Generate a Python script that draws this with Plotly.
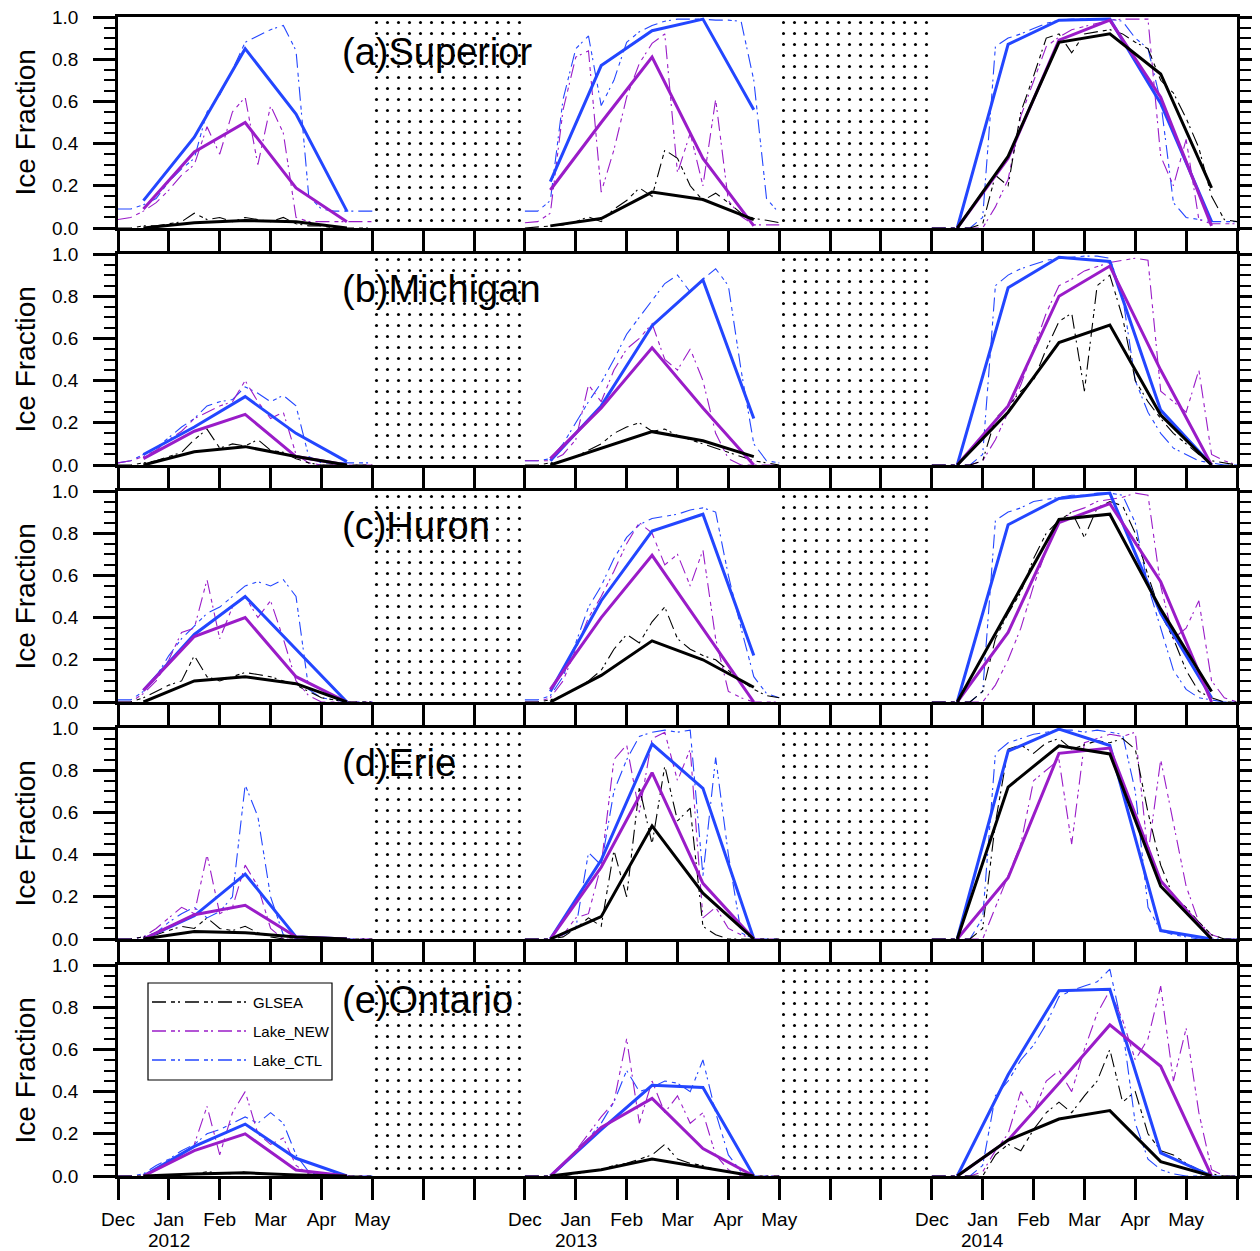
import plotly.graph_objects as go
from plotly.subplots import make_subplots

FONT = "Liberation Sans, Arial, Helvetica, sans-serif"

# ---------------- axis / categories ----------------
PANEL_TITLES = ["(a)Superior", "(b)Michigan", "(c)Huron", "(d)Erie", "(e)Ontario"]
TICK_POS = list(range(23))  # month index: Dec 2011 = 0 ... (summer compressed)
TICK_TEXT = ["Dec", "Jan", "Feb", "Mar", "Apr", "May", "", "",
             "Dec", "Jan", "Feb", "Mar", "Apr", "May", "", "",
             "Dec", "Jan", "Feb", "Mar", "Apr", "May", ""]
YEAR_TEXT = ["2012", "2013", "2014"]
YEAR_POS = [1, 9, 17]
GAP_CENTER = [6.5, 14.5]      # no-ice (summer) periods, stippled
GAP_WIDTH = [2.95, 2.9]
GAP_TOP = [1.0, 1.0]

# x positions (month index) of the daily (sub-sampled) series, per winter
DAY_X_12 = [0, 0.25, 0.5, 0.75, 1, 1.25, 1.5, 1.75, 2, 2.25, 2.5, 2.75, 3, 3.25, 3.5, 3.75, 4, 4.25, 4.5, 4.75, 5]
DAY_X_13 = [8, 8.25, 8.5, 8.75, 9, 9.25, 9.5, 9.75, 10, 10.25, 10.5, 10.75, 11, 11.25, 11.5, 11.75, 12, 12.25, 12.5, 12.75, 13]
DAY_X_14 = [16, 16.25, 16.5, 16.75, 17, 17.25, 17.5, 17.75, 18, 18.25, 18.5, 18.75, 19, 19.25, 19.5, 19.75, 20, 20.25, 20.5, 20.75, 21, 21.25, 21.5, 21.75, 22]
DAY_X = DAY_X_12 + [None] + DAY_X_13 + [None] + DAY_X_14

# x positions of monthly means (mid-month)
MON_X = [0.5, 1.5, 2.5, 3.5, 4.5, None, 8.5, 9.5, 10.5, 11.5, 12.5, None, 16.5, 17.5, 18.5, 19.5, 20.5, 21.5]

# ---------------- monthly means ----------------
SUP_GLSEA_M = [0.0, 0.025, 0.035, 0.03, 0.0, None, 0.01, 0.045, 0.17, 0.135, 0.04, None, 0.0, 0.34, 0.88, 0.92, 0.73, 0.19]
SUP_NEW_M = [0.09, 0.36, 0.50, 0.19, 0.03, None, 0.18, 0.50, 0.81, 0.33, 0.01, None, 0.0, 0.33, 0.89, 0.985, 0.62, 0.01]
SUP_CTL_M = [0.13, 0.43, 0.85, 0.54, 0.08, None, 0.22, 0.77, 0.935, 0.99, 0.56, None, 0.0, 0.87, 0.985, 0.99, 0.59, 0.03]

MIC_GLSEA_M = [0.0, 0.063, 0.087, 0.04, 0.0, None, 0.0, 0.08, 0.158, 0.115, 0.04, None, 0.0, 0.25, 0.58, 0.663, 0.237, 0.0]
MIC_NEW_M = [0.03, 0.16, 0.24, 0.04, 0.0, None, 0.03, 0.27, 0.555, 0.27, 0.0, None, 0.0, 0.28, 0.80, 0.943, 0.45, 0.0]
MIC_CTL_M = [0.05, 0.18, 0.324, 0.15, 0.016, None, 0.02, 0.28, 0.66, 0.877, 0.22, None, 0.0, 0.84, 0.985, 0.965, 0.26, 0.0]

HUR_GLSEA_M = [0.0, 0.10, 0.12, 0.087, 0.0, None, 0.0, 0.126, 0.29, 0.20, 0.07, None, 0.0, 0.43, 0.865, 0.89, 0.44, 0.05]
HUR_NEW_M = [0.055, 0.31, 0.40, 0.12, 0.0, None, 0.06, 0.40, 0.695, 0.35, 0.0, None, 0.0, 0.33, 0.85, 0.94, 0.57, 0.0]
HUR_CTL_M = [0.055, 0.32, 0.50, 0.25, 0.0, None, 0.05, 0.48, 0.81, 0.89, 0.22, None, 0.0, 0.84, 0.965, 0.99, 0.42, 0.02]

ERI_GLSEA_M = [0.0, 0.036, 0.03, 0.01, 0.0, None, 0.0, 0.106, 0.536, 0.217, 0.0, None, 0.0, 0.72, 0.916, 0.877, 0.25, 0.0]
ERI_NEW_M = [0.0, 0.115, 0.16, 0.01, 0.0, None, 0.0, 0.34, 0.788, 0.264, 0.0, None, 0.0, 0.29, 0.88, 0.905, 0.276, 0.0]
ERI_CTL_M = [0.0, 0.11, 0.308, 0.01, 0.0, None, 0.0, 0.374, 0.924, 0.714, 0.0, None, 0.0, 0.89, 0.995, 0.917, 0.04, 0.0]

ONT_GLSEA_M = [0.0, 0.01, 0.015, 0.005, 0.0, None, 0.0, 0.03, 0.08, 0.04, 0.0, None, 0.0, 0.17, 0.27, 0.31, 0.068, 0.0]
ONT_NEW_M = [0.0, 0.12, 0.20, 0.028, 0.0, None, 0.0, 0.23, 0.368, 0.13, 0.0, None, 0.0, 0.17, 0.44, 0.716, 0.52, 0.0]
ONT_CTL_M = [0.0, 0.14, 0.246, 0.084, 0.0, None, 0.0, 0.22, 0.43, 0.42, 0.0, None, 0.0, 0.48, 0.878, 0.885, 0.11, 0.0]

# ---------------- daily series ----------------
SUP_CTL_D = ([0.09, 0.09, 0.11, 0.14, 0.22, 0.28, 0.33, 0.55, 0.63, 0.75, 0.88, 0.91, 0.94, 0.96, 0.84, 0.15, 0.09, 0.08, 0.08, 0.08, 0.08]
             + [None] + [0.08, 0.08, 0.13, 0.61, 0.85, 0.91, 0.58, 0.70, 0.88, 0.93, 0.96, 0.98, 0.99, 0.99, 0.99, 0.985, 0.985, 0.98, 0.70, 0.14, 0.07]
             + [None] + [0, 0, 0, 0, 0.05, 0.86, 0.90, 0.92, 0.945, 0.97, 0.985, 0.99, 0.99, 0.99, 0.99, 0.98, 0.90, 0.85, 0.60, 0.12, 0.05, 0.04, 0.03, 0.03, 0.03])
SUP_NEW_D = ([0.04, 0.05, 0.08, 0.12, 0.18, 0.25, 0.30, 0.48, 0.35, 0.55, 0.62, 0.30, 0.58, 0.45, 0.05, 0.03, 0.03, 0.03, 0.03, 0.03, 0.03]
             + [None] + [0.025, 0.03, 0.07, 0.56, 0.81, 0.84, 0.17, 0.37, 0.62, 0.78, 0.875, 0.92, 0.26, 0.45, 0.20, 0.61, 0.13, 0.055, 0.015, 0.015, 0.015]
             + [None] + [0, 0, 0, 0, 0.0, 0.10, 0.23, 0.53, 0.70, 0.86, 0.905, 0.94, 0.955, 0.97, 0.985, 0.99, 0.99, 0.99, 0.34, 0.20, 0.42, 0.04, 0.02, 0.02, 0.02])
SUP_GLSEA_D = ([0, 0, 0.01, 0.01, 0.02, 0.03, 0.07, 0.04, 0.05, 0.03, 0.05, 0.04, 0.03, 0.05, 0.02, 0.01, 0.01, 0, 0, 0, 0]
               + [None] + [0, 0.005, 0.01, 0.014, 0.03, 0.053, 0.03, 0.09, 0.13, 0.19, 0.15, 0.37, 0.33, 0.20, 0.13, 0.165, 0.12, 0.07, 0.045, 0.037, 0.025]
               + [None] + [0, 0, 0, 0, 0.02, 0.25, 0.20, 0.55, 0.72, 0.90, 0.92, 0.83, 0.92, 0.93, 0.94, 0.92, 0.88, 0.85, 0.70, 0.64, 0.52, 0.38, 0.15, 0.04, 0.03])

MIC_CTL_D = ([0.01, 0.02, 0.05, 0.08, 0.13, 0.18, 0.22, 0.28, 0.30, 0.31, 0.37, 0.34, 0.30, 0.33, 0.28, 0.04, 0.01, 0.01, 0.01, 0.01, 0.01]
             + [None] + [0.02, 0.02, 0.03, 0.10, 0.20, 0.30, 0.39, 0.50, 0.62, 0.70, 0.78, 0.86, 0.90, 0.82, 0.88, 0.93, 0.85, 0.45, 0.10, 0.02, 0.01]
             + [None] + [0, 0, 0, 0, 0.05, 0.85, 0.90, 0.93, 0.95, 0.97, 0.98, 0.985, 0.99, 0.99, 0.98, 0.80, 0.40, 0.25, 0.15, 0.08, 0.05, 0.02, 0.01, 0, 0])
MIC_NEW_D = ([0.01, 0.02, 0.04, 0.07, 0.12, 0.16, 0.22, 0.25, 0.28, 0.30, 0.40, 0.30, 0.22, 0.25, 0.05, 0.01, 0, 0, 0, 0, 0]
             + [None] + [0.02, 0.02, 0.02, 0.05, 0.12, 0.38, 0.30, 0.45, 0.55, 0.60, 0.67, 0.50, 0.45, 0.55, 0.40, 0.15, 0.03, 0, 0, 0, 0]
             + [None] + [0, 0, 0, 0, 0.02, 0.12, 0.25, 0.38, 0.55, 0.72, 0.85, 0.88, 0.92, 0.94, 0.96, 0.97, 0.98, 0.97, 0.35, 0.30, 0.25, 0.45, 0.05, 0.02, 0])
MIC_GLSEA_D = ([0, 0, 0.01, 0.02, 0.04, 0.06, 0.12, 0.17, 0.08, 0.10, 0.09, 0.12, 0.07, 0.06, 0.03, 0.01, 0, 0, 0, 0, 0]
               + [None] + [0, 0, 0.01, 0.02, 0.04, 0.07, 0.10, 0.15, 0.18, 0.20, 0.16, 0.17, 0.14, 0.12, 0.10, 0.08, 0.06, 0.04, 0.02, 0.01, 0]
               + [None] + [0, 0, 0, 0, 0.02, 0.22, 0.28, 0.35, 0.40, 0.55, 0.68, 0.72, 0.35, 0.85, 0.90, 0.70, 0.40, 0.30, 0.22, 0.15, 0.10, 0.05, 0.02, 0.01, 0])

HUR_CTL_D = ([0.01, 0.01, 0.05, 0.12, 0.22, 0.30, 0.36, 0.42, 0.45, 0.50, 0.55, 0.57, 0.55, 0.58, 0.50, 0.06, 0.02, 0.01, 0, 0, 0]
             + [None] + [0.01, 0.01, 0.03, 0.12, 0.28, 0.45, 0.55, 0.68, 0.78, 0.84, 0.87, 0.88, 0.89, 0.91, 0.92, 0.90, 0.60, 0.35, 0.12, 0.04, 0.02]
             + [None] + [0, 0, 0, 0, 0.05, 0.86, 0.90, 0.92, 0.95, 0.96, 0.97, 0.98, 0.98, 0.99, 0.99, 0.98, 0.85, 0.55, 0.35, 0.15, 0.06, 0.02, 0.01, 0, 0])
HUR_NEW_D = ([0, 0, 0.04, 0.10, 0.20, 0.33, 0.35, 0.58, 0.30, 0.45, 0.50, 0.40, 0.48, 0.30, 0.10, 0.03, 0, 0, 0, 0, 0]
             + [None] + [0, 0, 0.02, 0.10, 0.25, 0.40, 0.50, 0.62, 0.75, 0.85, 0.80, 0.65, 0.70, 0.55, 0.72, 0.30, 0.05, 0.02, 0, 0, 0]
             + [None] + [0, 0, 0, 0, 0, 0.08, 0.20, 0.35, 0.55, 0.72, 0.85, 0.90, 0.92, 0.95, 0.96, 0.97, 0.99, 0.98, 0.55, 0.30, 0.35, 0.48, 0.10, 0.02, 0])
HUR_GLSEA_D = ([0, 0, 0.02, 0.05, 0.08, 0.10, 0.22, 0.12, 0.10, 0.12, 0.14, 0.13, 0.12, 0.10, 0.08, 0.05, 0.02, 0.01, 0, 0, 0]
               + [None] + [0, 0, 0.01, 0.03, 0.06, 0.10, 0.15, 0.25, 0.32, 0.28, 0.38, 0.45, 0.30, 0.25, 0.22, 0.20, 0.15, 0.10, 0.06, 0.03, 0.02]
               + [None] + [0, 0, 0, 0, 0.05, 0.30, 0.42, 0.52, 0.68, 0.80, 0.86, 0.90, 0.78, 0.92, 0.95, 0.93, 0.80, 0.60, 0.42, 0.30, 0.15, 0.05, 0.02, 0, 0])

ERI_CTL_D = ([0, 0, 0.01, 0.03, 0.08, 0.12, 0.15, 0.10, 0.13, 0.20, 0.73, 0.58, 0.20, 0.02, 0, 0, 0, 0, 0, 0, 0]
             + [None] + [0, 0, 0, 0.02, 0.05, 0.41, 0.35, 0.70, 0.85, 0.96, 0.98, 0.99, 0.98, 0.99, 0.30, 0.86, 0.40, 0.03, 0, 0, 0]
             + [None] + [0, 0, 0, 0, 0.10, 0.88, 0.93, 0.95, 0.97, 0.98, 0.99, 0.99, 0.98, 0.99, 0.98, 0.97, 0.70, 0.15, 0.04, 0.02, 0.01, 0, 0, 0, 0])
ERI_NEW_D = ([0, 0, 0.01, 0.05, 0.10, 0.15, 0.12, 0.40, 0.12, 0.15, 0.35, 0.25, 0.05, 0, 0, 0, 0, 0, 0, 0, 0]
             + [None] + [0, 0, 0, 0.02, 0.10, 0.12, 0.35, 0.85, 0.92, 0.60, 0.95, 0.98, 0.75, 0.90, 0.10, 0.15, 0.05, 0.02, 0, 0, 0]
             + [None] + [0, 0, 0, 0, 0, 0.15, 0.30, 0.45, 0.75, 0.80, 0.85, 0.45, 0.93, 0.95, 0.97, 0.96, 0.98, 0.40, 0.85, 0.55, 0.25, 0.08, 0.02, 0, 0])
ERI_GLSEA_D = ([0, 0, 0.01, 0.02, 0.04, 0.06, 0.05, 0.10, 0.05, 0.04, 0.06, 0.03, 0.01, 0, 0, 0, 0, 0, 0, 0, 0]
               + [None] + [0, 0, 0, 0.01, 0.05, 0.10, 0.06, 0.42, 0.20, 0.72, 0.45, 0.82, 0.56, 0.62, 0.06, 0.02, 0, 0, 0, 0, 0]
               + [None] + [0, 0, 0, 0, 0.05, 0.55, 0.90, 0.92, 0.88, 0.93, 0.95, 0.90, 0.92, 0.94, 0.93, 0.95, 0.90, 0.60, 0.35, 0.20, 0.15, 0.08, 0.02, 0, 0])

ONT_CTL_D = ([0, 0, 0.01, 0.05, 0.08, 0.12, 0.15, 0.20, 0.22, 0.25, 0.28, 0.25, 0.30, 0.25, 0.10, 0.02, 0, 0, 0, 0, 0]
             + [None] + [0, 0, 0, 0.05, 0.12, 0.18, 0.25, 0.35, 0.50, 0.40, 0.42, 0.45, 0.44, 0.40, 0.55, 0.30, 0.10, 0.02, 0, 0, 0]
             + [None] + [0, 0, 0, 0, 0.05, 0.38, 0.45, 0.55, 0.62, 0.72, 0.85, 0.88, 0.90, 0.92, 0.98, 0.70, 0.25, 0.08, 0.03, 0.01, 0, 0, 0, 0, 0])
ONT_NEW_D = ([0, 0, 0, 0.03, 0.06, 0.10, 0.15, 0.33, 0.10, 0.30, 0.40, 0.20, 0.15, 0.18, 0.05, 0.01, 0, 0, 0, 0, 0]
             + [None] + [0, 0, 0, 0.05, 0.12, 0.20, 0.28, 0.35, 0.65, 0.25, 0.45, 0.30, 0.38, 0.25, 0.30, 0.10, 0.03, 0, 0, 0, 0]
             + [None] + [0, 0, 0, 0, 0.02, 0.12, 0.20, 0.40, 0.30, 0.45, 0.50, 0.40, 0.60, 0.77, 0.88, 0.74, 0.55, 0.65, 0.90, 0.45, 0.70, 0.30, 0.03, 0, 0])
ONT_GLSEA_D = ([0, 0, 0, 0, 0, 0.005, 0.01, 0.02, 0.015, 0.01, 0.02, 0.01, 0.01, 0.005, 0, 0, 0, 0, 0, 0, 0]
               + [None] + [0, 0, 0, 0, 0.01, 0.02, 0.03, 0.05, 0.06, 0.08, 0.10, 0.15, 0.08, 0.06, 0.05, 0.03, 0.02, 0.01, 0, 0, 0]
               + [None] + [0, 0, 0, 0, 0, 0.10, 0.15, 0.12, 0.22, 0.30, 0.35, 0.30, 0.38, 0.45, 0.60, 0.35, 0.40, 0.20, 0.12, 0.10, 0.06, 0.03, 0.01, 0, 0])

DAILY = [
    (SUP_CTL_D, SUP_NEW_D, SUP_GLSEA_D),
    (MIC_CTL_D, MIC_NEW_D, MIC_GLSEA_D),
    (HUR_CTL_D, HUR_NEW_D, HUR_GLSEA_D),
    (ERI_CTL_D, ERI_NEW_D, ERI_GLSEA_D),
    (ONT_CTL_D, ONT_NEW_D, ONT_GLSEA_D),
]
MONTHLY = [
    (SUP_CTL_M, SUP_NEW_M, SUP_GLSEA_M),
    (MIC_CTL_M, MIC_NEW_M, MIC_GLSEA_M),
    (HUR_CTL_M, HUR_NEW_M, HUR_GLSEA_M),
    (ERI_CTL_M, ERI_NEW_M, ERI_GLSEA_M),
    (ONT_CTL_M, ONT_NEW_M, ONT_GLSEA_M),
]
SERIES_NAMES = ["Lake_CTL", "Lake_NEW", "GLSEA"]
COLORS = ["#2346ff", "#9a1cc8", "#000000"]
DASH = "14px,5px,4px,3px,2px,5px"

# ---------------- figure ----------------
# the page body has an 8px margin, so the figure is made 8px smaller
OFF = 8
W, H = 1260 - OFF, 1251 - OFF
PW, PH = 1119, 1159
ML, MT = 118 - OFF, 17 - OFF
MR, MB = W - ML - PW, H - MT - PH
GAP = 26

fig = make_subplots(rows=5, cols=1, vertical_spacing=GAP / PH)

for r in range(5):
    row = r + 1
    fig.add_trace(go.Bar(
        x=GAP_CENTER, y=GAP_TOP, width=GAP_WIDTH, base=0,
        marker=dict(color="white", line=dict(width=0),
                    pattern=dict(shape=".", fgcolor="black", bgcolor="white",
                                 size=11, solidity=0.06, fillmode="replace")),
        showlegend=False, hoverinfo="skip"), row=row, col=1)
    for ys, c in zip(DAILY[r], COLORS):
        fig.add_trace(go.Scatter(x=DAY_X, y=ys, mode="lines",
                                 line=dict(color=c, width=1.1, dash=DASH),
                                 showlegend=False, hoverinfo="skip"), row=row, col=1)
    for ys, c in zip(MONTHLY[r], COLORS):
        fig.add_trace(go.Scatter(x=MON_X, y=ys, mode="lines",
                                 line=dict(color=c, width=3),
                                 showlegend=False, hoverinfo="skip"), row=row, col=1)

    fig.update_xaxes(row=row, col=1, range=[0, 22], tickmode="array",
                     tickvals=TICK_POS, ticktext=TICK_TEXT, automargin=False,
                     showticklabels=(row == 5), ticks="outside", ticklen=21,
                     tickwidth=2.5, tickcolor="black", showline=True, linewidth=2.5,
                     linecolor="black", mirror=True, showgrid=False, zeroline=False,
                     tickfont=dict(family=FONT, size=19, color="black"),
                     ticklabelstandoff=3, ticklabeloverflow="allow")
    fig.update_yaxes(row=row, col=1, range=[0, 1], tickmode="array",
                     tickvals=[0, 0.2, 0.4, 0.6, 0.8, 1.0], automargin=False,
                     ticktext=["0.0", "0.2", "0.4", "0.6", "0.8", "1.0"],
                     ticks="outside", ticklen=22, tickwidth=2.5, tickcolor="black",
                     showline=True, linewidth=2.5, linecolor="black", mirror="ticks",
                     showgrid=False, zeroline=False,
                     minor=dict(ticks="outside", ticklen=11, tickwidth=2,
                                tickcolor="black", dtick=0.05, showgrid=False),
                     tickfont=dict(family=FONT, size=19, color="black"),
                     ticklabelstandoff=11, ticklabeloverflow="allow")

    yname = "y" if row == 1 else f"y{row}"
    xname = "x" if row == 1 else f"x{row}"
    fig.add_annotation(text=PANEL_TITLES[r], xref=f"{xname} domain", yref=f"{yname} domain",
                       x=(340 - 118) / PW, y=1 - 35 / 211, xanchor="left", yanchor="middle",
                       showarrow=False, font=dict(family=FONT, size=38, color="black"))
    fig.add_annotation(text="Ice Fraction", xref="paper", yref=f"{yname} domain",
                       x=(25 - 118) / PW, y=0.5, xanchor="center", yanchor="middle",
                       textangle=-90, showarrow=False,
                       font=dict(family=FONT, size=28, color="black"))

# year labels under the January ticks of the bottom panel
for yt, yp in zip(YEAR_TEXT, YEAR_POS):
    fig.add_annotation(text=yt, xref="x5", yref="paper", x=yp, y=-(1240 - 1176) / PH,
                       xanchor="center", yanchor="middle", showarrow=False,
                       font=dict(family=FONT, size=19, color="black"))

# ---------------- legend (in panel e) ----------------
def px_x(p):
    return (p - 118) / PW

def px_y(p):
    return (1176 - p) / PH

fig.add_shape(type="rect", xref="paper", yref="paper",
              x0=px_x(148), x1=px_x(332), y0=px_y(1080), y1=px_y(983),
              line=dict(color="black", width=1.2), fillcolor="white", layer="above")
LEG_ORDER = [("GLSEA", COLORS[2], 1002), ("Lake_NEW", COLORS[1], 1031), ("Lake_CTL", COLORS[0], 1060)]
for name, c, py in LEG_ORDER:
    fig.add_shape(type="line", xref="paper", yref="paper",
                  x0=px_x(152), x1=px_x(250), y0=px_y(py), y1=px_y(py),
                  line=dict(color=c, width=1.3, dash=DASH), layer="above")
    fig.add_annotation(text=name, xref="paper", yref="paper", x=px_x(251), y=px_y(py),
                       xanchor="left", yanchor="middle", showarrow=False,
                       font=dict(family=FONT, size=15, color="black"))

fig.update_layout(width=W, height=H, margin=dict(l=ML, r=MR, t=MT, b=MB, autoexpand=False),
                  plot_bgcolor="white", paper_bgcolor="white", showlegend=False,
                  bargap=0)

fig.write_html("out.html")
